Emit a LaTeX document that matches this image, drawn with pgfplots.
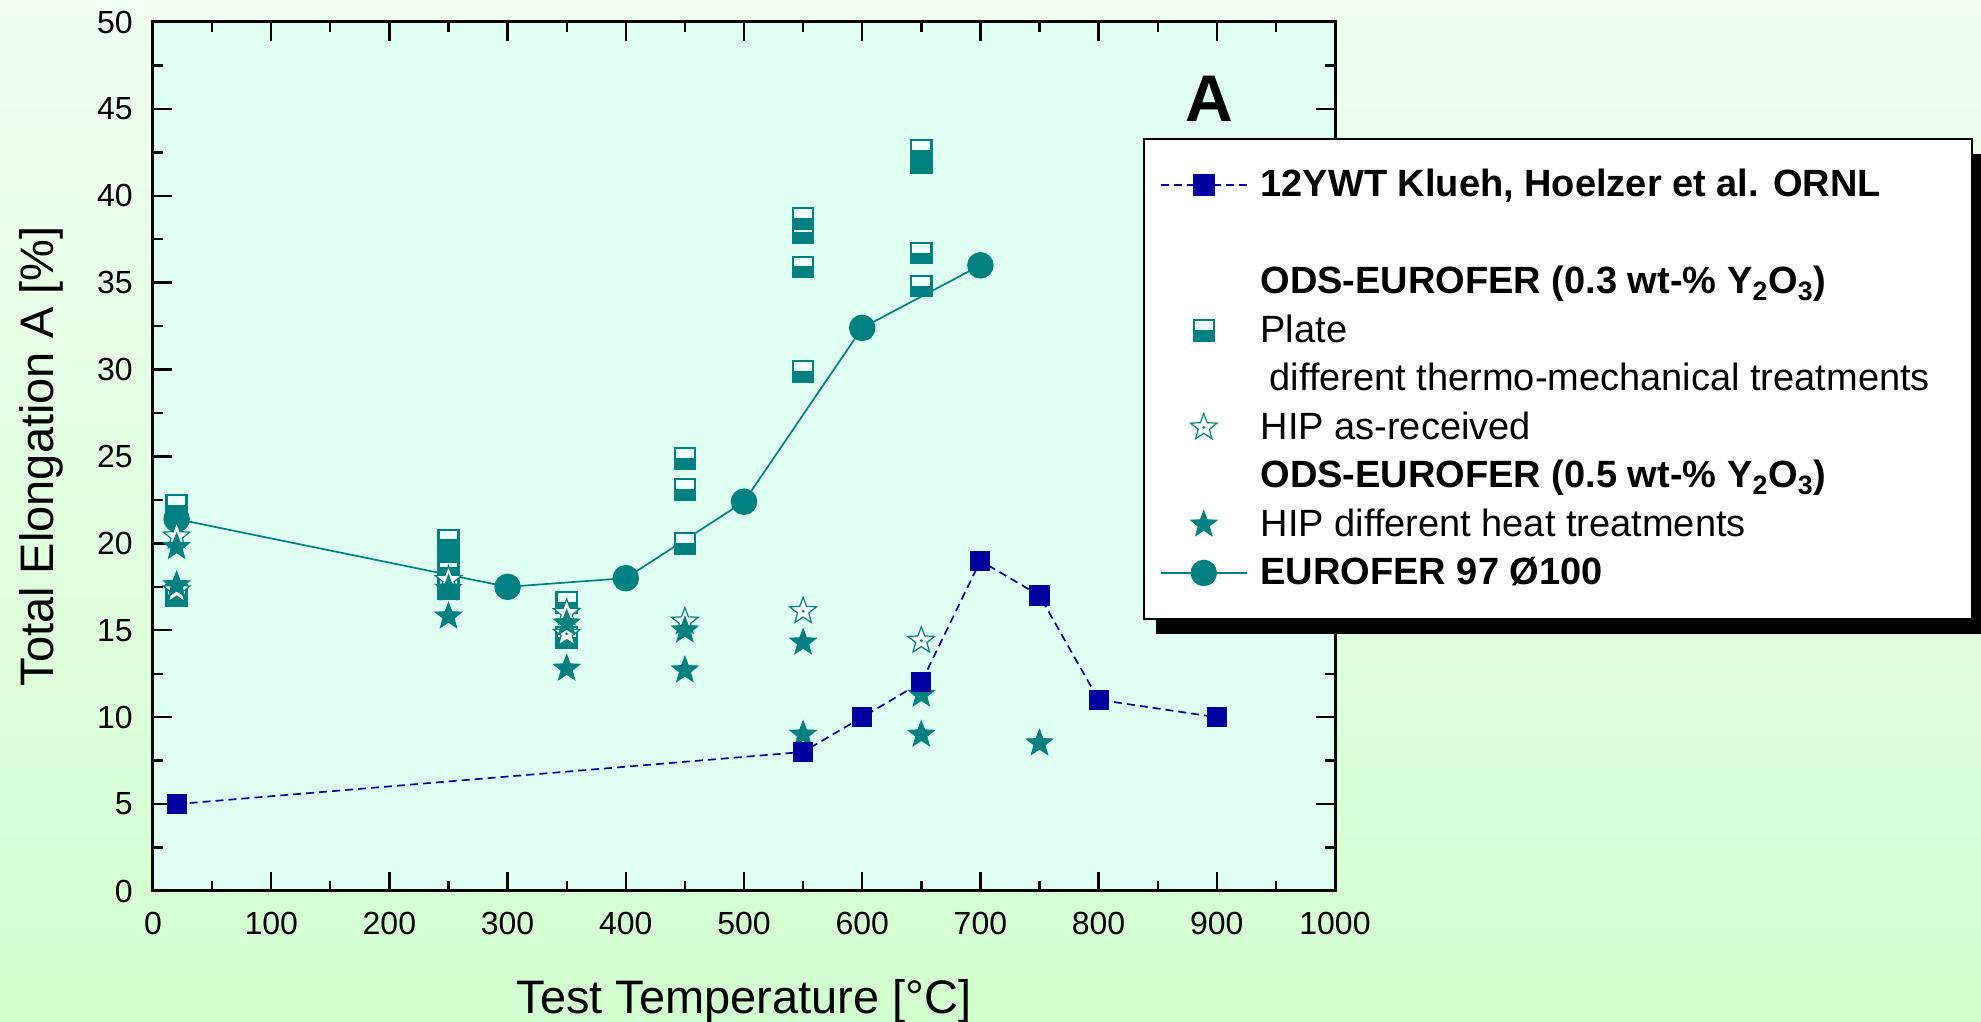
\documentclass[border=0pt]{standalone}
\usepackage{fontspec}
\setmainfont{Liberation Sans}
\usepackage{pgfplots}
\pgfplotsset{compat=1.18}
\usetikzlibrary{shadows}

\definecolor{tealc}{RGB}{0,128,128}
\definecolor{ornlblue}{RGB}{0,0,160}
\definecolor{plotbg}{RGB}{222,255,242}
\definecolor{bgtop}{RGB}{240,255,240}
\definecolor{bgbot}{RGB}{210,255,207}
\definecolor{platelight}{RGB}{236,255,250}

\makeatletter
\tikzset{no preaction/.code={\let\tikz@preactions\pgfutil@empty}}
\makeatother

\pgfdeclareplotmark{platesq}{%
  \pgfpathrectangle{\pgfqpoint{-\pgfplotmarksize}{-\pgfplotmarksize}}{\pgfqpoint{2\pgfplotmarksize}{2\pgfplotmarksize}}%
  \pgfusepathqfillstroke
  \begin{pgfscope}
    \pgfsetfillcolor{platelight}%
    \pgfpathrectangle{\pgfqpoint{-0.82\pgfplotmarksize}{0.06\pgfplotmarksize}}{\pgfqpoint{1.64\pgfplotmarksize}{0.80\pgfplotmarksize}}%
    \pgfusepathqfill
  \end{pgfscope}
}
\pgfdeclareplotmark{fstar}{%
  \pgfpathmoveto{\pgfqpointpolar{90}{\pgfplotmarksize}}%
  \pgfpathlineto{\pgfqpointpolar{126}{0.42\pgfplotmarksize}}%
  \pgfpathlineto{\pgfqpointpolar{162}{\pgfplotmarksize}}%
  \pgfpathlineto{\pgfqpointpolar{198}{0.42\pgfplotmarksize}}%
  \pgfpathlineto{\pgfqpointpolar{234}{\pgfplotmarksize}}%
  \pgfpathlineto{\pgfqpointpolar{270}{0.42\pgfplotmarksize}}%
  \pgfpathlineto{\pgfqpointpolar{306}{\pgfplotmarksize}}%
  \pgfpathlineto{\pgfqpointpolar{342}{0.42\pgfplotmarksize}}%
  \pgfpathlineto{\pgfqpointpolar{18}{\pgfplotmarksize}}%
  \pgfpathlineto{\pgfqpointpolar{54}{0.42\pgfplotmarksize}}%
  \pgfpathclose
  \pgfusepathqfillstroke
}
\pgfdeclareplotmark{hstar}{%
  \pgfpathmoveto{\pgfqpointpolar{90}{\pgfplotmarksize}}%
  \pgfpathlineto{\pgfqpointpolar{126}{0.42\pgfplotmarksize}}%
  \pgfpathlineto{\pgfqpointpolar{162}{\pgfplotmarksize}}%
  \pgfpathlineto{\pgfqpointpolar{198}{0.42\pgfplotmarksize}}%
  \pgfpathlineto{\pgfqpointpolar{234}{\pgfplotmarksize}}%
  \pgfpathlineto{\pgfqpointpolar{270}{0.42\pgfplotmarksize}}%
  \pgfpathlineto{\pgfqpointpolar{306}{\pgfplotmarksize}}%
  \pgfpathlineto{\pgfqpointpolar{342}{0.42\pgfplotmarksize}}%
  \pgfpathlineto{\pgfqpointpolar{18}{\pgfplotmarksize}}%
  \pgfpathlineto{\pgfqpointpolar{54}{0.42\pgfplotmarksize}}%
  \pgfpathclose
  \pgfusepathqfillstroke
  \pgfpathcircle{\pgfpointorigin}{0.05\pgfplotmarksize}%
  \pgfusepathqstroke
}

\pgfplotsset{
  mylegimg/.style={legend image code/.code={\draw[mark repeat=2,mark phase=2,##1,no preaction] plot coordinates {(0pt,0pt)(21.5pt,0pt)(43pt,0pt)};}},
}

\begin{document}
\begin{tikzpicture}
\shade[top color=bgtop, bottom color=bgbot] (-76.5pt,-65.5pt) rectangle (914pt,445.5pt);
\begin{axis}[
  at={(0pt,0pt)}, anchor=south west,
  scale only axis, width=591pt, height=434.5pt,
  xmin=0, xmax=1000, ymin=0, ymax=50,
  xtick={0,100,...,1000}, ytick={0,5,...,50},
  minor x tick num=1, minor y tick num=1,
  axis line style={line width=1.5pt},
  major tick length=9.5pt, minor tick length=5pt,
  every tick/.style={black, line width=1.2pt},
  axis background/.style={fill=plotbg},
  tick label style={font=\fontsize{16}{19}\selectfont, inner sep=0pt},
  xticklabel shift=10.5pt, yticklabel shift=10pt,
  /pgf/number format/assume math mode=true,
  /pgf/number format/1000 sep={},
  every axis x label/.style={at={(axis description cs:0.5,-0.1404)}, anchor=base, font=\fontsize{23.5}{28}\selectfont},
  every axis y label/.style={at={(axis description cs:-0.0846,0.5)}, rotate=90, anchor=base, font=\fontsize{23.5}{28}\selectfont},
  xlabel={Test Temperature [°C]},
  ylabel={Total Elongation A [\%]},
  mylegimg,
  legend cell align=left,
  legend style={
    at={(axis description cs:0.8376,0.8665)}, anchor=north west,
    draw=black, line width=0.9pt, fill=white,
    general shadow={fill=black, shadow xshift=6pt, shadow yshift=-7.5pt},
    inner xsep=8pt, inner ysep=10.9pt,
    row sep=0pt, column sep=6.5pt,
    font=\fontsize{19}{23}\selectfont,
    nodes={inner xsep=0pt, inner ysep=0pt, text height=17.9pt, text depth=6.35pt},
  },
]
% plate squares
\addplot[only marks, mark=platesq, mark size=5.4pt, tealc, mark options={fill=tealc, line width=0.5pt}, forget plot] coordinates {
  (20,17.0)(20,22.2)
  (250,17.4)(250,18.6)(250,19.5)(250,20.2)
  (350,14.6)(350,16.6)
  (450,20.0)(450,23.1)(450,24.9)
  (550,29.9)(550,35.9)(550,37.9)(550,38.7)
  (650,34.8)(650,36.7)(650,41.9)(650,42.6)
};
% EUROFER 97
\addplot[tealc, line width=0.85pt, mark=*, mark size=6.2pt, forget plot] coordinates {
  (20,21.4)(300,17.5)(400,18.0)(500,22.4)(600,32.4)(700,36.0)
};
% HIP as-received (hollow stars)
\addplot[only marks, mark=hstar, mark size=7pt, mark options={draw=tealc, fill=white, line width=0.6pt}, forget plot] coordinates {
  (20,20.4)(20,17.3)(250,17.9)(350,16.0)(350,14.8)(450,15.5)(550,16.1)(650,14.4)
};
% HIP heat treatments (filled stars)
\addplot[only marks, mark=fstar, mark size=7pt, tealc, mark options={fill=tealc, line width=0.4pt}, forget plot] coordinates {
  (20,19.8)(20,17.6)(250,17.4)(250,15.8)(350,15.4)(350,12.8)(450,15.0)(450,12.7)(550,14.3)(550,9.0)(650,11.3)(650,9.0)(750,8.5)
};
% 12YWT
\addplot[ornlblue, line width=0.85pt, dash pattern=on 4pt off 2.5pt, mark=square*, mark size=4.6pt, mark options={solid, fill=ornlblue}, forget plot] coordinates {
  (20,5)(550,8)(600,10)(650,12)(700,19)(750,17)(800,11)(900,10)
};

\node[font=\bfseries\fontsize{33}{36}\selectfont, anchor=base] at (axis cs:894,44.25) {A};

% legend
\addlegendimage{ornlblue, line width=0.85pt, dash pattern=on 4pt off 2.5pt, mark=square*, mark size=5pt, mark options={solid, fill=ornlblue}}
\addlegendentry{\textbf{12YWT Klueh, Hoelzer et al. ORNL}}
\addlegendimage{empty legend}
\addlegendentry{\mbox{}}
\addlegendimage{empty legend}
\addlegendentry{\textbf{ODS-EUROFER (0.3 wt-\% Y\textsubscript{2}O\textsubscript{3})}}
\addlegendimage{only marks, mylegimg, mark=platesq, mark size=5.4pt, tealc, mark options={fill=tealc, line width=0.5pt}}
\addlegendentry{Plate}
\addlegendimage{empty legend}
\addlegendentry{\hspace{4.5pt}different thermo-mechanical treatments\hspace*{13pt}}
\addlegendimage{only marks, mylegimg, mark=hstar, mark size=7pt, mark options={draw=tealc, fill=white, line width=0.6pt}}
\addlegendentry{HIP as-received}
\addlegendimage{empty legend}
\addlegendentry{\textbf{ODS-EUROFER (0.5 wt-\% Y\textsubscript{2}O\textsubscript{3})}}
\addlegendimage{only marks, mylegimg, mark=fstar, mark size=7pt, tealc, mark options={fill=tealc, line width=0.4pt}}
\addlegendentry{HIP different heat treatments}
\addlegendimage{tealc, line width=0.85pt, mark=*, mark size=6.2pt}
\addlegendentry{\textbf{EUROFER 97 Ø100}}
\end{axis}
\pgfresetboundingbox
\path[use as bounding box] (-76.5pt,-65.5pt) rectangle (914pt,445.5pt);
\end{tikzpicture}
\end{document}
